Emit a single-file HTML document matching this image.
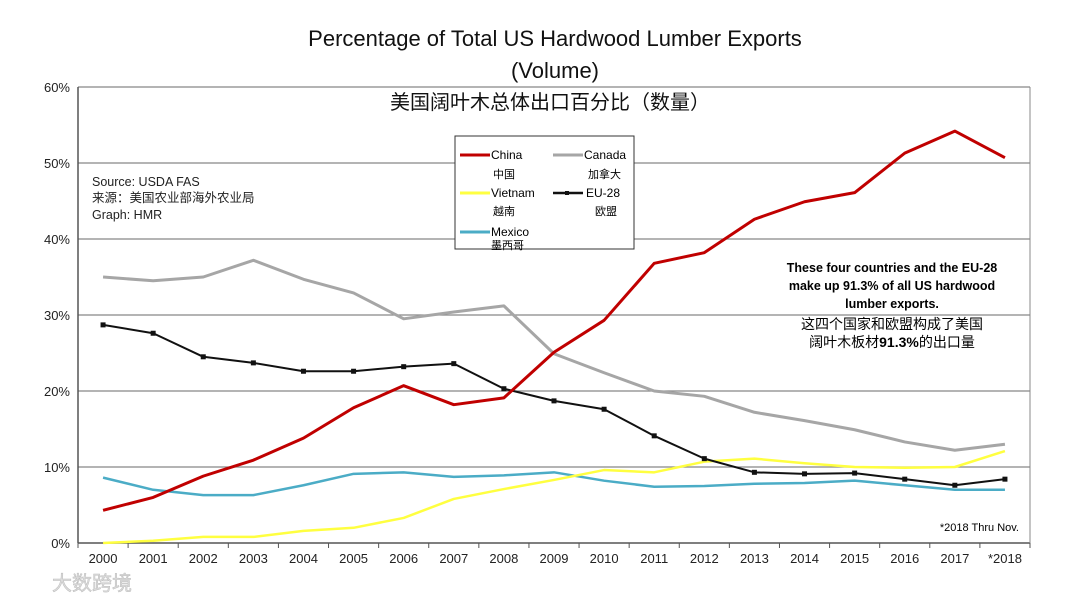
<!DOCTYPE html>
<html><head><meta charset="utf-8"><style>
body{margin:0;background:#fff;width:1080px;height:606px;overflow:hidden}
svg text{font-family:"Liberation Sans","Noto Sans CJK SC",sans-serif}
</style></head><body>
<svg id="c" width="1080" height="606">
<text x="555" y="46" font-size="22" text-anchor="middle" fill="#111">Percentage of Total US Hardwood Lumber Exports</text>
<text x="555" y="78" font-size="22" text-anchor="middle" fill="#111">(Volume)</text>
<text x="550" y="109" font-size="20" text-anchor="middle" fill="#111">美国阔叶木总体出口百分比（数量）</text>
<g id="grid"></g>
<g id="series"></g>
<g font-size="12.5" fill="#222">
<text x="92" y="186">Source: USDA FAS</text>
<text x="92" y="202">来源：美国农业部海外农业局</text>
<text x="92" y="219">Graph: HMR</text>
</g>
<g>
<rect x="455" y="136" width="179" height="113" fill="#fff" stroke="#333" stroke-width="1"/>
<line x1="460" y1="155" x2="490" y2="155" stroke="#c00000" stroke-width="3"/>
<text x="491" y="159" font-size="12">China</text><text x="493" y="178" font-size="11">中国</text>
<line x1="553" y1="155" x2="583" y2="155" stroke="#a6a6a6" stroke-width="3"/>
<text x="584" y="159" font-size="12">Canada</text><text x="588" y="178" font-size="11">加拿大</text>
<line x1="460" y1="193" x2="490" y2="193" stroke="#ffff40" stroke-width="3"/>
<text x="491" y="197" font-size="12">Vietnam</text><text x="493" y="215" font-size="11">越南</text>
<line x1="553" y1="193" x2="583" y2="193" stroke="#111" stroke-width="2.5"/><rect x="565" y="191" width="4" height="4" fill="#111"/>
<text x="586" y="197" font-size="12">EU-28</text><text x="595" y="215" font-size="11">欧盟</text>
<line x1="460" y1="232" x2="490" y2="232" stroke="#4bacc6" stroke-width="3"/>
<text x="491" y="236" font-size="12">Mexico</text><text x="491" y="249" font-size="11">墨西哥</text>
</g>
<g font-size="12.5" font-weight="bold" text-anchor="middle" fill="#000">
<text x="892" y="272">These four countries and the EU-28</text>
<text x="892" y="290">make up 91.3% of all US hardwood</text>
<text x="892" y="308">lumber exports.</text>
<text x="892" y="329" font-weight="normal" font-size="14">这四个国家和欧盟构成了美国</text>
<text x="892" y="347" font-weight="normal" font-size="14">阔叶木板材<tspan font-weight="bold">91.3%</tspan>的出口量</text>
</g>
<text x="1019" y="531" font-size="11" text-anchor="end">*2018 Thru Nov.</text>
<text x="52" y="590" font-size="20" fill="#ddd" stroke="#bbb" stroke-width="0.5">大数跨境</text>
</svg>
<script>
const years=["2000","2001","2002","2003","2004","2005","2006","2007","2008","2009","2010","2011","2012","2013","2014","2015","2016","2017","*2018"];
const yTicks=[0,10,20,30,40,50,60];
const china=[4.3,6.0,8.8,10.9,13.8,17.8,20.7,18.2,19.1,25.1,29.3,36.8,38.2,42.6,44.9,46.1,51.3,54.2,50.7];
const canada=[35.0,34.5,35.0,37.2,34.7,32.9,29.5,30.4,31.2,24.9,22.4,20.0,19.3,17.2,16.1,14.9,13.3,12.2,13.0];
const vietnam=[0,0.3,0.8,0.8,1.6,2.0,3.3,5.8,7.1,8.3,9.6,9.3,10.7,11.1,10.5,10.0,9.9,10.0,12.1];
const eu28=[28.7,27.6,24.5,23.7,22.6,22.6,23.2,23.6,20.3,18.7,17.6,14.1,11.1,9.3,9.1,9.2,8.4,7.6,8.4];
const mexico=[8.6,7.0,6.3,6.3,7.6,9.1,9.3,8.7,8.9,9.3,8.2,7.4,7.5,7.8,7.9,8.2,7.6,7.0,7.0];
const NS="http://www.w3.org/2000/svg";
const L=78,R=1030,T=87,B=543,band=(R-L)/years.length;
function x(i){return L+band*(i+0.5);}
function y(v){return B-(v/60)*(B-T);}
function mk(tag,attrs,parent){const e=document.createElementNS(NS,tag);for(const k in attrs)e.setAttribute(k,attrs[k]);parent.appendChild(e);return e;}
const g=document.getElementById('grid'),s=document.getElementById('series');
yTicks.forEach(t=>{
 const l=mk('line',{x1:L,x2:R,y1:y(t),y2:y(t),stroke:t===0?'#555':'#888','stroke-width':t===0?1.5:1.2},g);
 
 
 const tx=mk('text',{x:L-8,y:y(t)+5,'font-size':13,'text-anchor':'end',fill:'#222'},g);tx.textContent=t+'%';
 
 
});
mk('line',{x1:R,x2:R,y1:T,y2:B,stroke:'#888','stroke-width':1},g);
const ax=mk('line',{x1:L,x2:L,y1:T,y2:B,stroke:'#555','stroke-width':1.5},g);


years.forEach((yr,i)=>{
 mk('line',{x1:L+band*i,x2:L+band*i,y1:B,y2:B+5,stroke:'#555'},g);
 const tx=mk('text',{x:x(i),y:B+20,'font-size':13,'text-anchor':'middle',fill:'#222'},g);tx.textContent=yr;
 
 
});
mk('line',{x1:R,x2:R,y1:B,y2:B+5,stroke:'#555'},g);
function line(data,color,w,name,marker){
 const p=mk('polyline',{points:data.map((v,i)=>x(i)+','+y(v)).join(' '),fill:'none',stroke:color,'stroke-width':w,'stroke-linejoin':'round'},s);
 
 
 if(marker)data.forEach((v,i)=>{const r=mk('rect',{x:x(i)-2.5,y:y(v)-2.5,width:5,height:5,fill:color},s);
  
  });
}
line(canada,'#a6a6a6',3,'canada-line');
line(mexico,'#4bacc6',2.5,'mexico-line');
line(vietnam,'#ffff40',2.5,'vietnam-line');
line(eu28,'#111',2,'eu28-line',true);
line(china,'#c00000',3,'china-line');
</script>
</body></html>
